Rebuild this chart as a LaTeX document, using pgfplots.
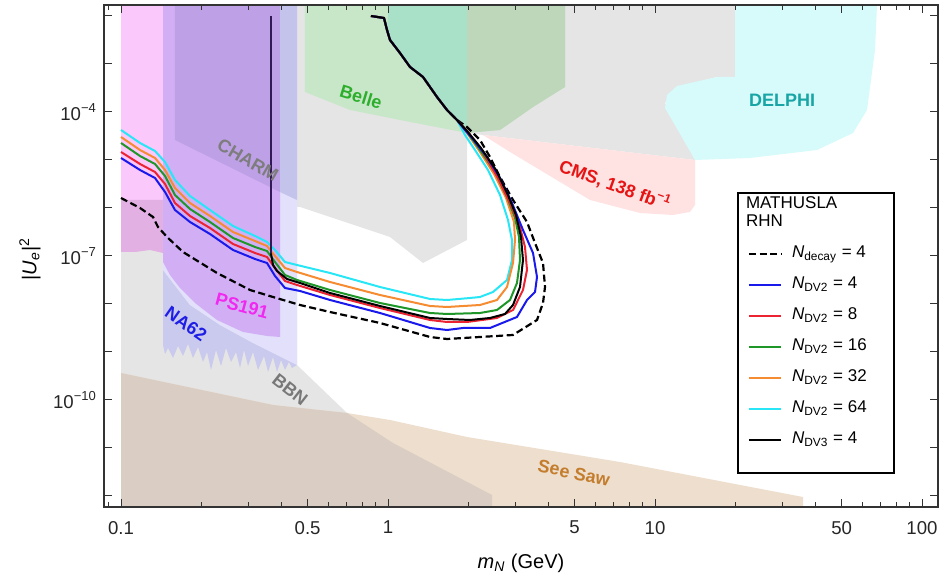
\documentclass[border=0pt]{standalone}
\usepackage{fontspec}
\setmainfont{Liberation Sans}
\usepackage{pgfplots}
\pgfplotsset{compat=1.18}

\definecolor{cgrey}{RGB}{229,229,229}
\definecolor{cbrown}{RGB}{238,222,205}
\definecolor{cbrowngrey}{RGB}{218,206,196}
\definecolor{cdelphi}{RGB}{215,250,250}
\definecolor{ccms}{RGB}{255,226,226}
\definecolor{cbelle}{RGB}{200,231,200}
\definecolor{cbelleR}{RGB}{190,215,186}
\definecolor{cteal}{RGB}{168,224,200}
\definecolor{cpink}{RGB}{250,200,250}
\definecolor{cmauve}{RGB}{226,176,226}
\definecolor{cnadark}{RGB}{202,202,238}
\definecolor{cnalight}{RGB}{226,224,250}
\definecolor{cps}{RGB}{210,175,245}
\definecolor{ccharm}{RGB}{190,160,230}
\definecolor{cstrip}{RGB}{196,195,236}
\definecolor{lblue}{RGB}{25,25,235}
\definecolor{lred}{RGB}{235,35,50}
\definecolor{lgreen}{RGB}{30,150,40}
\definecolor{lorange}{RGB}{245,140,50}
\definecolor{lcyan}{RGB}{40,230,245}
\definecolor{lpurp}{RGB}{50,25,85}
\definecolor{tcharm}{RGB}{125,125,125}
\definecolor{tbelle}{RGB}{45,175,45}
\definecolor{tdelphi}{RGB}{25,165,165}
\definecolor{tcms}{RGB}{230,20,20}
\definecolor{tps}{RGB}{240,40,240}
\definecolor{tna}{RGB}{30,30,230}
\definecolor{tbbn}{RGB}{120,120,120}
\definecolor{tsee}{RGB}{195,125,45}

\tikzset{lbl/.style={font=\fontsize{9}{10}\selectfont\bfseries, inner sep=0pt}}

\begin{document}
\begin{tikzpicture}
\useasboundingbox (-52pt,-35pt) rectangle (419.5pt,253.5pt);
\begin{axis}[
  at={(0pt,0pt)}, anchor=south west,
  scale only axis, width=417pt, height=251pt,
  xmin=-1.0637, xmax=2.0599, ymin=-12.2292, ymax=-1.7708,
  axis on top,
  axis line style={black!80, line width=0.6pt},
  tick style={black!80, line width=0.5pt},
  major tick length=4pt, minor tick length=2.5pt,
  xtick={-1,-0.30103,0,0.69897,1,1.69897,2},
  xticklabels={0.1,0.5,1,5,10,50,100},
  minor xtick={-1.04576,-0.69897,-0.52288,-0.39794,-0.22185,-0.15490,-0.09691,-0.04576,
               0.30103,0.47712,0.60206,0.77815,0.84510,0.90309,0.95424,
               1.30103,1.47712,1.60206,1.77815,1.84510,1.90309,1.95424},
  ytick={-12,-11,...,-2},
  yticklabels={,,10\textsuperscript{−10},,,10\textsuperscript{−7},,,10\textsuperscript{−4},,},
  tick label style={font=\fontsize{9.3}{11}\selectfont, black!85},
  xticklabel style={yshift=-3.5pt},
  xlabel={\textit{m}\textsubscript{\textit{N}} (GeV)},
  ylabel={|\textit{U}\textsubscript{\textit{e}}|\textsuperscript{2}},
  label style={font=\fontsize{9.3}{11}\selectfont},
  every axis x label/.style={at={(axis description cs:0.5,-0.113)},anchor=center},
  every axis y label/.style={at={(axis description cs:-0.0887,0.494)},anchor=center,rotate=90},
  legend style={at={(axis cs:1.3071,-5.6667)}, anchor=north west, draw=black, line width=0.8pt,
    fill=white, font=\fontsize{8.5}{10}\selectfont, inner xsep=5pt, inner ysep=2pt,
    row sep=1.5pt, column sep=3pt,
    nodes={inner sep=2pt, text height=7pt, text depth=3pt}},
  legend cell align=left,
  legend image code/.code={\draw[#1] (0pt,0pt) -- (16pt,0pt);},
]
% ---------------- excluded regions ----------------
\addplot[fill=cgrey, draw=none, forget plot] coordinates {(-1.0,-1.7708) (1.2996,-1.7708) (1.2996,-3.2708) (1.2322,-3.2708) (1.0824,-3.4792) (1.0375,-3.8125) (1.1498,-5.0) (0.3558,-4.4792) (0.2959,-4.4375) (0.2959,-6.6667) (0.1311,-7.1458) (0.0075,-6.6042) (-0.3296,-5.9792) (-0.3408,-5.9792) (-0.3408,-9.2708) (-0.1536,-10.2708) (0.0187,-10.8958) (0.3895,-11.9792) (0.3895,-12.2292) (-1.0,-12.2292)};
% See-saw
\addplot[fill=cbrown, draw=none, forget plot] coordinates {(-1.0,-9.4375) (-0.4307,-10.1042) (-0.1536,-10.2708) (0.0075,-10.4167) (0.2959,-10.7708) (0.8689,-11.2917) (1.5543,-12.0208) (1.5543,-12.2292) (-1.0,-12.2292)};
\addplot[fill=cbrowngrey, draw=none, forget plot] coordinates {(-1.0,-9.4375) (-0.4307,-10.1042) (-0.1536,-10.2708) (0.0187,-10.8958) (0.3895,-11.9792) (0.3895,-12.2292) (-1.0,-12.2292)};
% DELPHI
\addplot[fill=cdelphi, draw=none, forget plot] coordinates {(1.2996,-1.7708) (1.8315,-1.7708) (1.8240,-2.7083) (1.7940,-3.9583) (1.7416,-4.4375) (1.6067,-4.7917) (1.3558,-4.9583) (1.1498,-5.0) (1.0375,-3.9167) (1.0449,-3.6458) (1.0824,-3.4583) (1.2322,-3.2708) (1.2996,-3.2708)};
% CMS
\addplot[fill=ccms, draw=none, forget plot] coordinates {(0.3558,-4.4792) (1.1498,-5.0) (1.1498,-5.9375) (1.1311,-6.0833) (1.0674,-6.1458) (0.9438,-6.1042) (0.7566,-5.8333) (0.5693,-5.2083) (0.4569,-4.8333)};
% Belle
\addplot[fill=cbelle, draw=none, forget plot] coordinates {(-0.3109,-1.7708) (0.6629,-1.7708) (0.6629,-3.4792) (0.5431,-3.8958) (0.4195,-4.375) (0.2959,-4.4375) (0.0449,-4.1667) (-0.1423,-3.9583) (-0.3109,-3.5833)};
\addplot[fill=cbelleR, draw=none, forget plot] coordinates {(0.2959,-1.7708) (0.6629,-1.7708) (0.6629,-3.4792) (0.5431,-3.8958) (0.4195,-4.375) (0.2959,-4.4375)};
\addplot[fill=cteal, draw=none, forget plot] coordinates {(0.0,-1.7708) (0.2959,-1.7708) (0.2959,-4.375) (0.2584,-4.1667) (0.2210,-3.9583) (0.1835,-3.6875) (0.1311,-3.2708) (0.0824,-3.0625) (0.0449,-2.7708) (0.0075,-2.5) (-0.0037,-2.2917) (0.0,-2.0)};
% PS191 left column
\addplot[fill=cpink, draw=none, forget plot] coordinates {(-1.0,-1.7708) (-0.8427,-1.7708) (-0.8427,-5.8333) (-1.0,-5.8333)};
\addplot[fill=cmauve, draw=none, forget plot] coordinates {(-1.0,-5.8333) (-0.8427,-5.8333) (-0.8427,-6.9375) (-0.8914,-6.875) (-0.9476,-6.9167) (-1.0,-6.9167)};
% NA62
\addplot[fill=cnadark, draw=none, forget plot] coordinates {(-0.8427,-7.2917) (-0.7416,-8.0208) (-0.6292,-8.4375) (-0.5056,-8.8125) (-0.3783,-9.1667) (-0.3408,-9.2708) (-0.3596,-9.3333) (-0.3708,-9.2083) (-0.3858,-9.375) (-0.4007,-9.1667) (-0.4157,-9.4167) (-0.4307,-9.1042) (-0.4494,-9.4167) (-0.4644,-9.0833) (-0.4869,-9.375) (-0.5056,-9.0) (-0.5243,-9.2917) (-0.5393,-8.9583) (-0.5543,-9.3333) (-0.5693,-9.0) (-0.5880,-9.2083) (-0.6067,-8.9167) (-0.6255,-9.2917) (-0.6442,-8.9583) (-0.6629,-9.375) (-0.6779,-9.0) (-0.6929,-9.2083) (-0.7116,-8.8958) (-0.7303,-9.125) (-0.7491,-8.8333) (-0.7678,-9.0833) (-0.7865,-8.875) (-0.8052,-9.125) (-0.8240,-8.9167) (-0.8352,-9.0417) (-0.8427,-8.8542)};
\addplot[fill=cnalight, draw=none, forget plot] coordinates {(-0.8427,-1.7708) (-0.3408,-1.7708) (-0.3408,-9.2708) (-0.3783,-9.1667) (-0.5056,-8.8125) (-0.6292,-8.4375) (-0.7416,-8.0208) (-0.8427,-7.2917)};
% PS191
\addplot[fill=cps, draw=none, forget plot] coordinates {(-0.8427,-1.7708) (-0.4045,-1.7708) (-0.4045,-8.6875) (-0.4532,-8.6667) (-0.5431,-8.5833) (-0.6404,-8.3333) (-0.7228,-7.9792) (-0.7790,-7.6667) (-0.8165,-7.3958) (-0.8427,-7.125)};
% CHARM
\addplot[fill=ccharm, draw=none, forget plot] coordinates {(-0.7978,-1.7708) (-0.4045,-1.7708) (-0.4045,-5.6667) (-0.7978,-4.5833)};
\addplot[fill=cstrip, draw=none, forget plot] coordinates {(-0.4045,-1.7708) (-0.3408,-1.7708) (-0.3408,-5.8333) (-0.4045,-5.6667)};

% ---------------- MATHUSLA curves ----------------
% N_decay = 4
\addplot[black, line width=1.1pt, dash pattern=on 3.5pt off 1.8pt, forget plot] coordinates {(-1.0,-5.7917) (-0.9288,-6.0) (-0.8801,-6.1875) (-0.8614,-6.3958) (-0.8277,-6.6042) (-0.7678,-6.9167) (-0.6404,-7.3542) (-0.5169,-7.7083) (-0.4307,-7.8542) (-0.3296,-8.0208) (-0.2172,-8.1667) (-0.0300,-8.3958) (0.1573,-8.6875) (0.2210,-8.7292) (0.3446,-8.6875) (0.4682,-8.6458) (0.5581,-8.3333) (0.5805,-7.9792) (0.5880,-7.6458) (0.5805,-7.1458) (0.5506,-6.7292) (0.5206,-6.2917) (0.4682,-5.8333) (0.4195,-5.3542) (0.3820,-4.9375) (0.3446,-4.5833) (0.2959,-4.3125) (0.2584,-4.1667) (0.2210,-3.9583) (0.1835,-3.6875) (0.1311,-3.2708) (0.0824,-3.0625) (0.0449,-2.7708) (0.0075,-2.5) (-0.0037,-2.2917) (-0.0150,-2.0417) (-0.0637,-2.0)};
% N_DV2 = 64
\addplot[lcyan, line width=1pt, forget plot] coordinates {(-1.0,-4.375) (-0.9288,-4.6458) (-0.8727,-4.8125) (-0.8352,-5.0417) (-0.7978,-5.4167) (-0.7416,-5.75) (-0.6667,-6.0417) (-0.5805,-6.375) (-0.4981,-6.5833) (-0.4532,-6.7083) (-0.4232,-6.875) (-0.3858,-7.125) (-0.3408,-7.1875) (-0.2172,-7.3542) (-0.0300,-7.6458) (0.1573,-7.8958) (0.2210,-7.9167) (0.3071,-7.875) (0.3446,-7.8542) (0.3933,-7.75) (0.4457,-7.5) (0.4644,-7.0833) (0.4644,-6.6667) (0.4494,-6.25) (0.4195,-5.7292) (0.3745,-5.2083) (0.3258,-4.7917) (0.2884,-4.4792) (0.2584,-4.1667) (0.2210,-3.9583) (0.1835,-3.6875) (0.1311,-3.2708) (0.0824,-3.0625) (0.0449,-2.7708) (0.0075,-2.5) (-0.0037,-2.2917) (-0.0150,-2.0417) (-0.0637,-2.0)};
% N_DV2 = 32
\addplot[lorange, line width=1pt, forget plot] coordinates {(-1.0,-4.5208) (-0.9288,-4.7917) (-0.8727,-4.9583) (-0.8352,-5.2083) (-0.7978,-5.5833) (-0.7416,-5.8958) (-0.6667,-6.1667) (-0.5805,-6.5) (-0.4981,-6.6875) (-0.4532,-6.7917) (-0.4232,-7.0) (-0.3858,-7.25) (-0.3408,-7.3333) (-0.2172,-7.5417) (-0.0300,-7.8125) (0.1573,-8.0417) (0.2210,-8.0625) (0.3446,-8.0208) (0.4082,-7.9167) (0.4457,-7.6458) (0.4682,-7.1458) (0.4757,-6.6667) (0.4719,-6.2917) (0.4419,-5.7917) (0.3970,-5.2917) (0.3446,-4.8333) (0.2959,-4.4375) (0.2584,-4.1667) (0.2210,-3.9583) (0.1835,-3.6875) (0.1311,-3.2708) (0.0824,-3.0625) (0.0449,-2.7708) (0.0075,-2.5) (-0.0037,-2.2917) (-0.0150,-2.0417) (-0.0637,-2.0)};
% N_DV2 = 16
\addplot[lgreen, line width=1pt, forget plot] coordinates {(-1.0,-4.6458) (-0.9288,-4.9167) (-0.8727,-5.0833) (-0.8352,-5.3333) (-0.7978,-5.7292) (-0.7416,-6.0208) (-0.6667,-6.2917) (-0.5805,-6.625) (-0.4981,-6.8125) (-0.4532,-6.8958) (-0.4232,-7.125) (-0.3858,-7.3958) (-0.3408,-7.5) (-0.2172,-7.7083) (-0.0300,-7.9792) (0.1573,-8.1875) (0.2210,-8.2083) (0.3446,-8.1875) (0.4082,-8.125) (0.4569,-7.9167) (0.4831,-7.5625) (0.4944,-7.0833) (0.4906,-6.6042) (0.4757,-6.2083) (0.4457,-5.7708) (0.4007,-5.25) (0.3446,-4.7917) (0.2959,-4.4167) (0.2584,-4.1667) (0.2210,-3.9583) (0.1835,-3.6875) (0.1311,-3.2708) (0.0824,-3.0625) (0.0449,-2.7708) (0.0075,-2.5) (-0.0037,-2.2917) (-0.0150,-2.0417) (-0.0637,-2.0)};
% N_DV2 = 8
\addplot[lred, line width=1pt, forget plot] coordinates {(-1.0,-4.8333) (-0.9288,-5.0833) (-0.8727,-5.25) (-0.8352,-5.5) (-0.7978,-5.8958) (-0.7416,-6.1667) (-0.6667,-6.4167) (-0.5805,-6.75) (-0.4981,-6.9375) (-0.4532,-7.0208) (-0.4232,-7.25) (-0.3858,-7.5208) (-0.3408,-7.6042) (-0.2172,-7.8125) (-0.0300,-8.0833) (0.1573,-8.3333) (0.2210,-8.375) (0.2959,-8.375) (0.4082,-8.2917) (0.4682,-8.125) (0.5056,-7.7083) (0.5206,-7.2917) (0.5131,-6.8125) (0.4944,-6.3958) (0.4569,-5.8958) (0.4120,-5.375) (0.3558,-4.8333) (0.2996,-4.4167) (0.2584,-4.1667) (0.2210,-3.9583) (0.1835,-3.6875) (0.1311,-3.2708) (0.0824,-3.0625) (0.0449,-2.7708) (0.0075,-2.5) (-0.0037,-2.2917) (-0.0150,-2.0417) (-0.0637,-2.0)};
% N_DV2 = 4
\addplot[lblue, line width=1pt, forget plot] coordinates {(-1.0,-4.9583) (-0.9288,-5.2083) (-0.8727,-5.375) (-0.8352,-5.6667) (-0.7978,-6.0417) (-0.7416,-6.2917) (-0.6667,-6.5417) (-0.5805,-6.875) (-0.4981,-7.0625) (-0.4532,-7.1458) (-0.4232,-7.4167) (-0.3858,-7.6667) (-0.3296,-7.7292) (-0.2172,-7.9167) (-0.0300,-8.1875) (0.1573,-8.5) (0.2210,-8.5417) (0.2809,-8.5) (0.3820,-8.5) (0.4831,-8.2708) (0.5206,-7.9167) (0.5506,-7.75) (0.5581,-7.4375) (0.5431,-6.9375) (0.5056,-6.4583) (0.4644,-5.8958) (0.4195,-5.375) (0.3708,-4.9375) (0.3146,-4.5417) (0.2884,-4.375) (0.2584,-4.1667) (0.2210,-3.9583) (0.1835,-3.6875) (0.1311,-3.2708) (0.0824,-3.0625) (0.0449,-2.7708) (0.0075,-2.5) (-0.0037,-2.2917) (-0.0150,-2.0417) (-0.0637,-2.0)};
% N_DV3 = 4
\addplot[lpurp, line width=1.1pt, forget plot] coordinates {(-0.4382,-2.0) (-0.4382,-6.9792)};
\addplot[black, line width=1pt, forget plot] coordinates {(-0.4382,-6.95) (-0.4307,-7.1875) (-0.4157,-7.3125) (-0.3783,-7.4792) (-0.3296,-7.5625) (-0.2172,-7.7708) (-0.0300,-8.0417) (0.1573,-8.2917) (0.2210,-8.3125) (0.3071,-8.3333) (0.3820,-8.2917) (0.4382,-8.2083) (0.4682,-8.0208) (0.4944,-7.6458) (0.5056,-7.0833) (0.4981,-6.6042) (0.4794,-6.1458) (0.4494,-5.7292) (0.4045,-5.2083) (0.3483,-4.75) (0.2959,-4.3958) (0.2584,-4.1667) (0.2210,-3.9583) (0.1835,-3.6875) (0.1311,-3.2708) (0.0824,-3.0625) (0.0449,-2.7708) (0.0075,-2.5) (-0.0037,-2.2917) (-0.0150,-2.0417) (-0.0637,-2.0)};

% ---------------- region labels ----------------
\node[lbl, text=tcharm, rotate=-30] at (axis cs:-0.5243,-5.0) {CHARM};
\node[lbl, text=tbelle, rotate=-17] at (axis cs:-0.1011,-3.6875) {Belle};
\node[lbl, text=tdelphi] at (axis cs:1.4757,-3.75) {DELPHI};
\node[lbl, text=tcms, rotate=-20] at (axis cs:0.8502,-5.5208) {CMS, 138 fb\textsuperscript{−1}};
\node[lbl, text=tps, rotate=-15] at (axis cs:-0.5468,-8.0417) {PS191};
\node[lbl, text=tna, rotate=-35] at (axis cs:-0.7566,-8.4167) {NA62};
\node[lbl, text=tbbn, rotate=-38] at (axis cs:-0.3670,-9.7917) {BBN};
\node[lbl, text=tsee, rotate=-12] at (axis cs:0.6966,-11.5208) {See Saw};

% ---------------- legend ----------------
\addlegendimage{empty legend}
\addlegendentry[text height=13pt]{\makebox[0pt][l]{\hspace{-23pt}\shortstack[l]{MATHUSLA\\RHN}}}
\addlegendimage{black, line width=1.1pt, dash pattern=on 3.5pt off 1.8pt}
\addlegendentry{\makebox[44pt][l]{\textit{N}\textsubscript{decay} = 4}}
\addlegendimage{lblue, line width=1pt}
\addlegendentry{\makebox[44pt][l]{\textit{N}\textsubscript{DV2} = 4}}
\addlegendimage{lred, line width=1pt}
\addlegendentry{\makebox[44pt][l]{\textit{N}\textsubscript{DV2} = 8}}
\addlegendimage{lgreen, line width=1pt}
\addlegendentry{\makebox[44pt][l]{\textit{N}\textsubscript{DV2} = 16}}
\addlegendimage{lorange, line width=1pt}
\addlegendentry{\makebox[44pt][l]{\textit{N}\textsubscript{DV2} = 32}}
\addlegendimage{lcyan, line width=1pt}
\addlegendentry{\makebox[44pt][l]{\textit{N}\textsubscript{DV2} = 64}}
\addlegendimage{black, line width=1pt}
\addlegendentry{\makebox[44pt][l]{\textit{N}\textsubscript{DV3} = 4}}
\addlegendimage{empty legend}
\addlegendentry[text height=2pt, text depth=0pt]{}
\end{axis}
\end{tikzpicture}
\end{document}
